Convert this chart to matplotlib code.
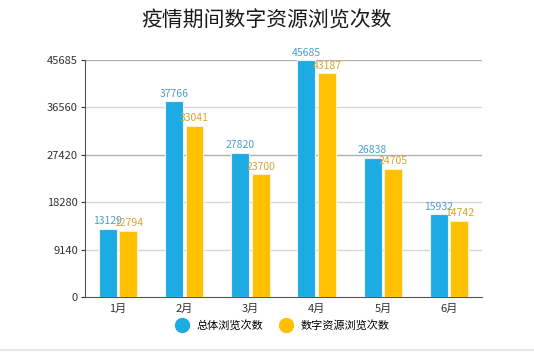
import matplotlib.pyplot as plt
import numpy as np

plt.rcParams['font.family'] = ['Noto Sans CJK SC', 'DejaVu Sans']

months = ["1月", "2月", "3月", "4月", "5月", "6月"]
total_views = [13129, 37766, 27820, 45685, 26838, 15932]
digital_views = [12794, 33041, 23700, 43187, 24705, 14742]
y_ticks = [0, 9140, 18280, 27420, 36560, 45685]
series_names = ["总体浏览次数", "数字资源浏览次数"]

blue = "#1dabe3"
yellow = "#ffc000"

fig = plt.figure(figsize=(5.34, 3.54), dpi=100)
ax = fig.add_axes([0.159, 0.161, 0.744, 0.669])

x = np.arange(len(months))
w = 0.27
off = 0.155
ax.bar(x - off, total_views, w, color=blue, edgecolor="#e8f4fa", linewidth=0.8, label=series_names[0], zorder=3)
ax.bar(x + off, digital_views, w, color=yellow, edgecolor="#fbf0d0", linewidth=0.8, label=series_names[1], zorder=3)

# value labels above the bars
for xi, v in zip(x, total_views):
    ax.text(xi - off, v + 500, str(v), ha="center", va="bottom", fontsize=7.5, color="#4a9fcf", zorder=4)
for xi, v in zip(x, digital_views):
    ax.text(xi + off, v + 500, str(v), ha="center", va="bottom", fontsize=7.5, color="#d6a632", zorder=4)

ax.set_xlim(-0.5, 5.5)
ax.set_ylim(0, 45685)
ax.set_yticks(y_ticks)
ax.set_yticklabels([str(t) for t in y_ticks])
ax.set_xticks(x)
ax.set_xticklabels(months)
ax.tick_params(axis="y", labelsize=8, colors="#333333", length=3, width=0.8, pad=2)
ax.tick_params(axis="x", labelsize=8, colors="#333333", length=0, pad=5)

for t in y_ticks[1:]:
    c = "#b0b0b0" if t in (27420, 45685) else "#d8d8d8"
    ax.axhline(t, color=c, linewidth=1.0, zorder=1)

for s in ["top", "right"]:
    ax.spines[s].set_visible(False)
ax.spines["left"].set_color("#555555")
ax.spines["bottom"].set_color("#555555")

fig.suptitle("疫情期间数字资源浏览次数", fontsize=15, y=0.972, color="#1a1a1a")

handles = [plt.Line2D([], [], marker="o", linestyle="", markersize=10, color=blue),
           plt.Line2D([], [], marker="o", linestyle="", markersize=10, color=yellow)]
fig.legend(handles, series_names, loc="center", bbox_to_anchor=(0.525, 0.082), ncol=2,
           frameon=False, fontsize=8, handletextpad=0.3, columnspacing=1.0)

fig.add_artist(plt.Line2D([0, 1], [0.012, 0.012], color="#e6e6e6", linewidth=1.5))

fig.savefig("out.png", dpi=100)
